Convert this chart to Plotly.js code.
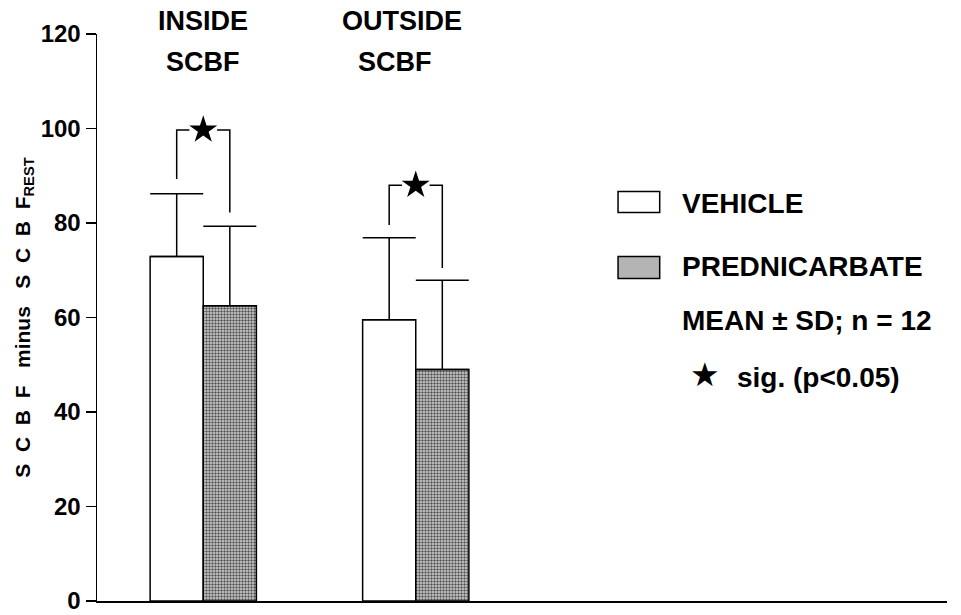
<!DOCTYPE html>
<html>
<head>
<meta charset="utf-8">
<script src="https://cdn.plot.ly/plotly-3.0.1.min.js"></script>
<style>html,body{margin:0;padding:0;background:#fff;}#chart{width:961px;height:615px;}</style>
</head>
<body>
<div id="chart"></div>
<script>
// ---- data ----
var groupPos = [1, 3];
var groupLine1 = ['INSIDE', 'OUTSIDE'];
var groupLine2 = ['SCBF', 'SCBF'];
var vehicleMean = [72.9, 59.5];
var vehicleSD = [13.3, 17.4];
var predMean = [62.5, 49.0];
var predSD = [16.8, 18.9];
var sigTop = [99.7, 88.0];
var sigLegVehicle = [89.3, 79.6];
var sigLegPred = [82.2, 70.5];
var seriesNames = ['VEHICLE', 'PREDNICARBATE'];
var yTicks = [0, 20, 40, 60, 80, 100, 120];

// ---- style ----
var FONT = 'Liberation Sans, Arial, Helvetica, sans-serif';
var BW = 0.5;       // bar width (x units)
var GAP = 0.13;     // half-gap around the star

var traces = [];
traces.push({
  type: 'bar', name: seriesNames[0], x: groupPos, y: vehicleMean,
  width: BW, offset: -BW,
  marker: {color: '#ffffff', line: {color: '#000', width: 1.5}},
  error_y: {type: 'data', array: vehicleSD, symmetric: false, arrayminus: [0, 0],
            color: '#000', thickness: 1.5, width: 26.5},
  showlegend: false, hoverinfo: 'skip'
});
traces.push({
  type: 'bar', name: seriesNames[1], x: groupPos, y: predMean,
  width: BW, offset: 0,
  marker: {color: '#c8c8c8', line: {color: '#000', width: 1.5},
           pattern: {shape: '.', size: 3, solidity: 0.5, fgcolor: '#555', bgcolor: '#d8d8d8', fillmode: 'replace'}},
  error_y: {type: 'data', array: predSD, symmetric: false, arrayminus: [0, 0],
            color: '#000', thickness: 1.5, width: 26.5},
  showlegend: false, hoverinfo: 'skip'
});

// significance brackets
var bx = [], by = [];
for (var i = 0; i < groupPos.length; i++) {
  var c = groupPos[i], vx = c - BW / 2, px = c + BW / 2;
  bx.push(vx, vx, c - GAP, null, c + GAP, px, px, null);
  by.push(sigLegVehicle[i], sigTop[i], sigTop[i], null, sigTop[i], sigTop[i], sigLegPred[i], null);
}
traces.push({
  type: 'scatter', mode: 'lines', x: bx, y: by,
  line: {color: '#000', width: 1.5}, showlegend: false, hoverinfo: 'skip', cliponaxis: false
});
traces.push({
  type: 'scatter', mode: 'markers', x: groupPos, y: sigTop,
  marker: {symbol: 'star', size: 21, color: '#000'},
  showlegend: false, hoverinfo: 'skip', cliponaxis: false
});

var annotations = [];
var xShift1 = [0, -14];
var xShift2 = [0, -21];
var topFont = {family: FONT, size: 27, color: '#000', weight: 'bold'};
for (var j = 0; j < groupPos.length; j++) {
  annotations.push({x: groupPos[j], y: 1.0225, xref: 'x', yref: 'paper', text: groupLine1[j],
    showarrow: false, xanchor: 'center', yanchor: 'middle', xshift: xShift1[j], font: topFont});
  annotations.push({x: groupPos[j], y: 0.9513, xref: 'x', yref: 'paper', text: groupLine2[j],
    showarrow: false, xanchor: 'center', yanchor: 'middle', xshift: xShift2[j], font: topFont});
}
var legFont = {family: FONT, size: 28, color: '#000', weight: 'bold'};
annotations.push({x: 0.686, y: 0.7012, xref: 'paper', yref: 'paper', text: seriesNames[0],
  showarrow: false, xanchor: 'left', yanchor: 'middle', font: legFont});
annotations.push({x: 0.686, y: 0.5897, xref: 'paper', yref: 'paper', text: seriesNames[1],
  showarrow: false, xanchor: 'left', yanchor: 'middle', font: legFont});
annotations.push({x: 0.686, y: 0.4942, xref: 'paper', yref: 'paper', text: 'MEAN \u00b1 SD; n = 12',
  showarrow: false, xanchor: 'left', yanchor: 'middle', font: legFont});
annotations.push({x: 0.7506, y: 0.3950, xref: 'paper', yref: 'paper', text: 'sig. (p<0.05)',
  showarrow: false, xanchor: 'left', yanchor: 'middle', font: legFont});
annotations.push({x: 0.7153, y: 0.4003, xref: 'paper', yref: 'paper', text: '\u2605',
  showarrow: false, xanchor: 'center', yanchor: 'middle',
  font: {family: 'DejaVu Sans', size: 33, color: '#000'}});

var shapes = [
  {type: 'rect', xref: 'paper', yref: 'paper', x0: 0.613, x1: 0.662, y0: 0.6852, y1: 0.7222,
   line: {color: '#000', width: 1.5}, fillcolor: '#ffffff'},
  {type: 'rect', xref: 'paper', yref: 'paper', x0: 0.613, x1: 0.662, y0: 0.5688, y1: 0.6076,
   line: {color: '#000', width: 1.5}, fillcolor: '#b4b4b4'}
];

var layout = {
  width: 961, height: 615,
  margin: {l: 97, r: 14, t: 34, b: 14, pad: 0},
  paper_bgcolor: '#fff', plot_bgcolor: '#fff',
  barmode: 'overlay',
  showlegend: false,
  font: {family: FONT, color: '#000'},
  xaxis: {range: [0, 8], showline: true, linecolor: '#000', linewidth: 2,
          showticklabels: false, ticks: '', showgrid: false, zeroline: false, fixedrange: true},
  yaxis: {range: [0, 120], tickvals: yTicks, ticktext: yTicks.map(String),
          showline: true, linecolor: '#000', linewidth: 1.5,
          ticks: 'outside', ticklen: 10, tickwidth: 1.5, tickcolor: '#000',
          ticklabeloverflow: 'allow',
          showgrid: false, zeroline: false, fixedrange: true,
          tickfont: {family: FONT, size: 24, color: '#000', weight: 'bold'},
          title: {text: 'S\u00a0\u00a0C\u00a0\u00a0B\u00a0\u00a0F\u00a0\u00a0\u00a0minus\u00a0\u00a0\u00a0S\u00a0\u00a0C\u00a0\u00a0B\u00a0\u00a0F<sub>REST</sub>',
                  font: {family: FONT, size: 21, color: '#000', weight: 'bold'}, standoff: 4}},
  annotations: annotations,
  shapes: shapes
};

Plotly.newPlot('chart', traces, layout, {staticPlot: true, displayModeBar: false});
</script>
</body>
</html>
